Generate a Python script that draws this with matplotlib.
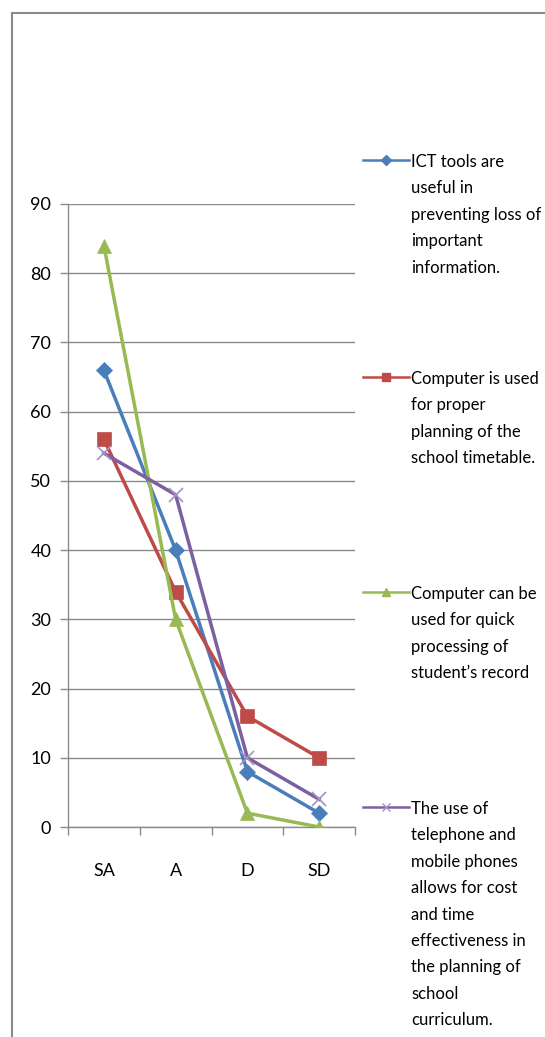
import matplotlib.pyplot as plt
from matplotlib.lines import Line2D
from matplotlib.patches import Rectangle
from matplotlib.ticker import FixedLocator

W, H = 545, 1037

categories = ["SA", "A", "D", "SD"]
ict_tools = [66, 40, 8, 2]
timetable = [56, 34, 16, 10]
student_record = [84, 30, 2, 0]
telephone = [54, 48, 10, 4]

labels = [
    "ICT tools are\nuseful in\npreventing loss of\nimportant\ninformation.",
    "Computer is used\nfor proper\nplanning of the\nschool timetable.",
    "Computer can be\nused for quick\nprocessing of\nstudent\u2019s record",
    "The use of\ntelephone and\nmobile phones\nallows for cost\nand time\neffectiveness in\nthe planning of\nschool\ncurriculum.",
]

COLORS = ["#4A7EBB", "#BE4B48", "#98B954", "#7D60A0"]
MARKERS = ["D", "s", "^", "x"]
MSIZES = [8, 10, 10, 10]
FONT = ["Lato", "DejaVu Sans"]

plt.rcParams["font.family"] = FONT


def main():
    fig = plt.figure(figsize=(W / 100, H / 100), dpi=100)

    # outer frame, cut off on the right and bottom
    fig.add_artist(Rectangle((12 / W, -0.1), 1.2, 1 - 13 / H + 0.1,
                             transform=fig.transFigure, fill=False,
                             edgecolor="#8a8a8a", linewidth=1.5))

    ax = fig.add_axes([68 / W, 1 - 827 / H, (355 - 68) / W, (827 - 204) / H])
    series = [ict_tools, timetable, student_record, telephone]
    x = list(range(len(categories)))
    for vals, c, m, ms in zip(series, COLORS, MARKERS, MSIZES):
        ax.plot(x, vals, color=c, linewidth=2.5, marker=m, markersize=ms,
                markeredgewidth=1.2 if m == "x" else 0.5,
                markeredgecolor="#a58fc4" if m == "x" else c, zorder=3)

    ax.set_xlim(-0.5, 3.5)
    ax.set_ylim(0, 90)
    ax.set_yticks(range(0, 91, 10))
    ax.set_xticks(x)
    ax.set_xticklabels(categories)
    ax.xaxis.set_minor_locator(FixedLocator([-0.5, 0.5, 1.5, 2.5, 3.5]))
    ax.tick_params(axis="x", which="major", length=0, pad=26, labelsize=13)
    ax.tick_params(axis="x", which="minor", length=6, color="#8a8a8a", width=1)
    ax.tick_params(axis="y", length=6, color="#8a8a8a", width=1, pad=6, labelsize=13)
    ax.grid(axis="y", color="#8a8a8a", linewidth=1)
    ax.set_axisbelow(True)
    for side in ["top", "right"]:
        ax.spines[side].set_visible(False)
    for side in ["left", "bottom"]:
        ax.spines[side].set_color("#8a8a8a")
        ax.spines[side].set_linewidth(1)

    # legend entries spaced evenly down the right side
    entry_y = [160, 377, 592, 807]
    for lab, c, m, ms, yy in zip(labels, COLORS, MARKERS, MSIZES, entry_y):
        yf = 1 - yy / H
        fig.add_artist(Line2D([363 / W, 386 / W, 409 / W], [yf, yf, yf],
                              transform=fig.transFigure, color=c, linewidth=1.8,
                              marker=m, markersize=ms * 0.6, markevery=[1],
                              markeredgecolor="#a58fc4" if m == "x" else c,
                              markeredgewidth=1))
        fig.text(411 / W, 1 - (yy - 6) / H, lab, fontsize=12, va="top",
                 ha="left", linespacing=1.80, color="black")

    fig.savefig("out.png", dpi=100)
    plt.close(fig)


if __name__ == "__main__":
    main()
